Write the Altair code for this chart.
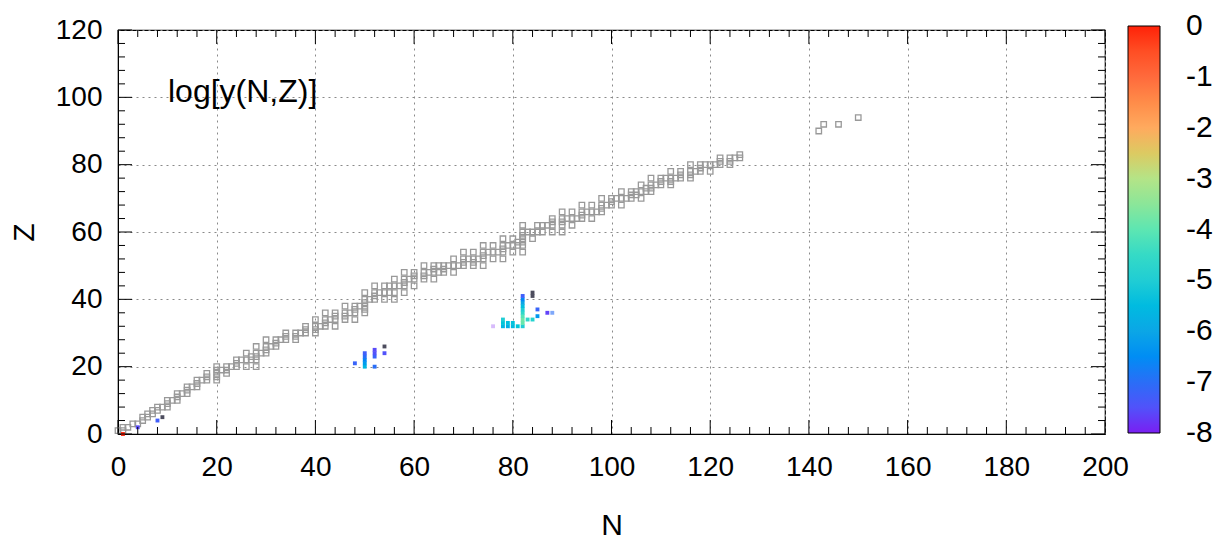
import altair as alt
import pandas as pd

# ---------------- data ----------------
# stable / long-lived nuclides: proton number and its neutron numbers
element_Z = [1, 2, 3, 4, 5, 6, 7, 8, 9, 10, 11, 12, 13, 14, 15, 16, 17, 18, 19, 20,
             21, 22, 23, 24, 25, 26, 27, 28, 29, 30, 31, 32, 33, 34, 35, 36, 37, 38, 39, 40,
             41, 42, 44, 45, 46, 47, 48, 49, 50, 51, 52, 53, 54, 55, 56, 57, 58, 59, 60,
             62, 63, 64, 65, 66, 67, 68, 69, 70, 71, 72, 73, 74, 75, 76, 77, 78, 79, 80,
             81, 82, 83, 90, 92, 94]
element_N = [
    [0, 1], [1, 2], [3, 4], [5], [5, 6], [6, 7], [7, 8], [8, 9, 10], [10], [10, 11, 12],
    [12], [12, 13, 14], [14], [14, 15, 16], [16], [16, 17, 18, 20], [18, 20], [18, 20, 22],
    [20, 21, 22], [20, 22, 23, 24, 26, 28],
    [24], [24, 25, 26, 27, 28], [27, 28], [26, 28, 29, 30], [30], [28, 30, 31, 32], [32],
    [30, 32, 33, 34, 36], [34, 36], [34, 36, 37, 38, 40], [38, 40], [38, 40, 41, 42, 44],
    [42], [40, 42, 43, 44, 46, 48], [44, 46], [42, 44, 46, 47, 48, 50], [48, 50],
    [46, 48, 49, 50], [50], [50, 51, 52, 54, 56],
    [52], [50, 52, 53, 54, 55, 56, 58], [52, 54, 55, 56, 57, 58, 60], [58],
    [56, 58, 59, 60, 62, 64], [60, 62], [58, 60, 62, 63, 64, 65, 66, 68], [64, 66],
    [62, 64, 65, 66, 67, 68, 69, 70, 72, 74], [70, 72], [68, 70, 71, 72, 73, 74, 76, 78],
    [74], [70, 72, 74, 75, 76, 77, 78, 80, 82], [78], [74, 76, 78, 79, 80, 81, 82],
    [81, 82], [78, 80, 82, 84], [82], [82, 83, 84, 85, 86, 88, 90],
    [82, 85, 86, 87, 88, 90, 92], [88, 90], [88, 90, 91, 92, 93, 94, 96], [94],
    [90, 92, 94, 95, 96, 97, 98], [98], [94, 96, 98, 99, 100, 102], [100],
    [98, 100, 101, 102, 103, 104, 106], [104, 105], [102, 104, 105, 106, 107, 108],
    [107, 108], [106, 108, 109, 110, 112], [110, 112], [108, 110, 111, 112, 113, 114, 116],
    [114, 116], [112, 114, 116, 117, 118, 120], [118], [116, 118, 119, 120, 121, 122, 124],
    [122, 124], [122, 124, 125, 126], [126], [142], [143, 146], [150]]

# abundances log[y(N,Z)] (in colour range -8 .. 0)
yield_N = [1, 4, 8,
           48, 50, 50, 50, 50, 50, 52, 52, 52, 52, 54,
           76, 78, 78, 78, 79, 79, 80, 80, 81,
           82, 82, 82, 82, 82, 82, 82, 82, 82, 82,
           83, 84, 85, 85, 87, 88]
yield_Z = [0, 2, 4,
           21, 20, 21, 22, 23, 24, 20, 23, 24, 25, 24,
           32, 32, 33, 34, 32, 33, 32, 33, 32,
           32, 33, 34, 35, 36, 37, 38, 39, 40, 41,
           34, 34, 35, 37, 36, 36]
yield_log = [0.0, -7.6, -7.3,
             -7.2, -5.6, -6.2, -6.6, -7.0, -7.3, -7.0, -7.2, -7.5, -7.6, -7.5,
             -8.0, -5.6, -5.2, -5.0, -5.8, -5.4, -5.5, -5.3, -5.2,
             -5.0, -3.9, -3.8, -4.1, -4.6, -5.0, -5.4, -6.0, -6.6, -7.3,
             -4.6, -4.8, -6.3, -7.2, -7.7, -7.0]
yield_alpha = [1, 1, 1,
               1, 1, 1, 1, 1, 1, 1, 1, 1, 1, 1,
               0.3, 1, 1, 1, 1, 1, 1, 1, 1,
               1, 1, 1, 1, 1, 1, 1, 1, 1, 1,
               1, 1, 1, 1, 1, 0.6]

# below the colour range (drawn dark)
under_N = [9, 54, 84, 84]
under_Z = [5, 26, 41, 42]

x_major = [0, 20, 40, 60, 80, 100, 120, 140, 160, 180, 200]
y_major = [0, 20, 40, 60, 80, 100, 120]
x_minor = list(range(0, 201, 4))
y_minor = list(range(0, 121, 4))

cbar_values = [0, -1, -2, -3, -4, -5, -6, -7, -8]
# colour stops (ends nudged a hair outside -8 / 0 so the end labels centre on them)
cbar_domain = [-8.0005, -7, -6, -5, -4, -3, -2, -1, 0.0005]
cbar_colors = ["#7a1ff2", "#2a6ef7", "#0ba6e6", "#20cdd4", "#5de6b2",
               "#b4e487", "#ffaa5e", "#ff6a3c", "#ff2208"]

# ---------------- tables ----------------
rows = []
for z, ns in zip(element_Z, element_N):
    for n in ns:
        rows.append({"N": n, "Z": z})
stable_df = pd.DataFrame(rows)
yield_df = pd.DataFrame({"N": yield_N, "Z": yield_Z, "logy": yield_log, "alpha": yield_alpha})
under_df = pd.DataFrame({"N": under_N, "Z": under_Z})
xmaj_df = pd.DataFrame({"N": [v for v in x_minor if v % 20 == 0]})
xmin_df = pd.DataFrame({"N": [v for v in x_minor if v % 20 != 0]})
ymaj_df = pd.DataFrame({"Z": [v for v in y_minor if v % 20 == 0]})
ymin_df = pd.DataFrame({"Z": [v for v in y_minor if v % 20 != 0]})

W, H = 987, 404
FONT = "Liberation Sans"

xscale = alt.Scale(domain=[0, 200], nice=False, zero=False)
yscale = alt.Scale(domain=[0, 120], nice=False, zero=False)

x_axis = alt.Axis(values=x_major, grid=True, gridDash=[2, 4], gridColor="#8a8a8a",
                  gridWidth=1, ticks=False, tickSize=0, labelFontSize=28,
                  labelPadding=19, labelColor="black", labelFlush=False,
                  title="N", titleFontSize=30, titleFontWeight="normal",
                  titleColor="black", titlePadding=29, domainColor="black")
y_axis = alt.Axis(values=y_major, grid=True, gridDash=[2, 4], gridColor="#8a8a8a",
                  gridWidth=1, ticks=False, tickSize=0, labelFontSize=28,
                  labelPadding=16, labelColor="black", labelFlush=False,
                  title="Z", titleFontSize=30, titleFontWeight="normal",
                  titleColor="black", titlePadding=16, domainColor="black")

stable = alt.Chart(stable_df).mark_point(
    shape="square", filled=False, size=30, color="#999999", strokeWidth=1.3, opacity=1
).encode(
    x=alt.X("N:Q", scale=xscale, axis=x_axis),
    y=alt.Y("Z:Q", scale=yscale, axis=y_axis),
)

colored = alt.Chart(yield_df).mark_square(size=15, opacity=1).encode(
    x=alt.X("N:Q"),
    y=alt.Y("Z:Q"),
    color=alt.Color(
        "logy:Q",
        scale=alt.Scale(domain=cbar_domain, range=cbar_colors, clamp=True),
        legend=alt.Legend(
            orient="none", legendX=1010, legendY=-4, direction="vertical",
            title=None, gradientLength=407, gradientThickness=32,
            gradientStrokeColor="black", gradientStrokeWidth=1,
            values=cbar_values, labelFontSize=30, labelColor="black",
            labelOffset=26, labelOverlap=False, labelExpr="'' + datum.value",
            labelFont=FONT,
        ),
    ),
    opacity=alt.Opacity("alpha:Q", scale=None, legend=None),
)

under = alt.Chart(under_df).mark_square(size=15, color="#4d4d5e", opacity=1).encode(
    x="N:Q", y="Z:Q"
)

annotation = alt.Chart(pd.DataFrame({"t": ["log[y(N,Z)]"]})).mark_text(
    align="left", baseline="middle", fontSize=32, font=FONT, color="black"
).encode(text="t:N", x=alt.value(50), y=alt.value(62))


def xticks(df, length):
    bottom = alt.Chart(df).mark_rule(color="black", strokeWidth=1).encode(
        x="N:Q", y=alt.value(H), y2=alt.value(H - length))
    top = alt.Chart(df).mark_rule(color="black", strokeWidth=1).encode(
        x="N:Q", y=alt.value(0), y2=alt.value(length))
    return [bottom, top]


def yticks(df, length):
    left = alt.Chart(df).mark_rule(color="black", strokeWidth=1).encode(
        y="Z:Q", x=alt.value(0), x2=alt.value(length))
    right = alt.Chart(df).mark_rule(color="black", strokeWidth=1).encode(
        y="Z:Q", x=alt.value(W), x2=alt.value(W - length))
    return [left, right]


tick_layers = xticks(xmaj_df, 14) + xticks(xmin_df, 7) + yticks(ymaj_df, 14) + yticks(ymin_df, 7)

chart = alt.layer(stable, under, colored, annotation, *tick_layers).properties(
    width=W, height=H,
    autosize=alt.AutoSizeParams(type="none"),
    padding={"left": 118, "top": 30, "right": 119, "bottom": 107},
).configure(font=FONT).configure_view(stroke="black", strokeWidth=1.2)

chart.save("out.html", embed_options={"renderer": "svg", "actions": False})
